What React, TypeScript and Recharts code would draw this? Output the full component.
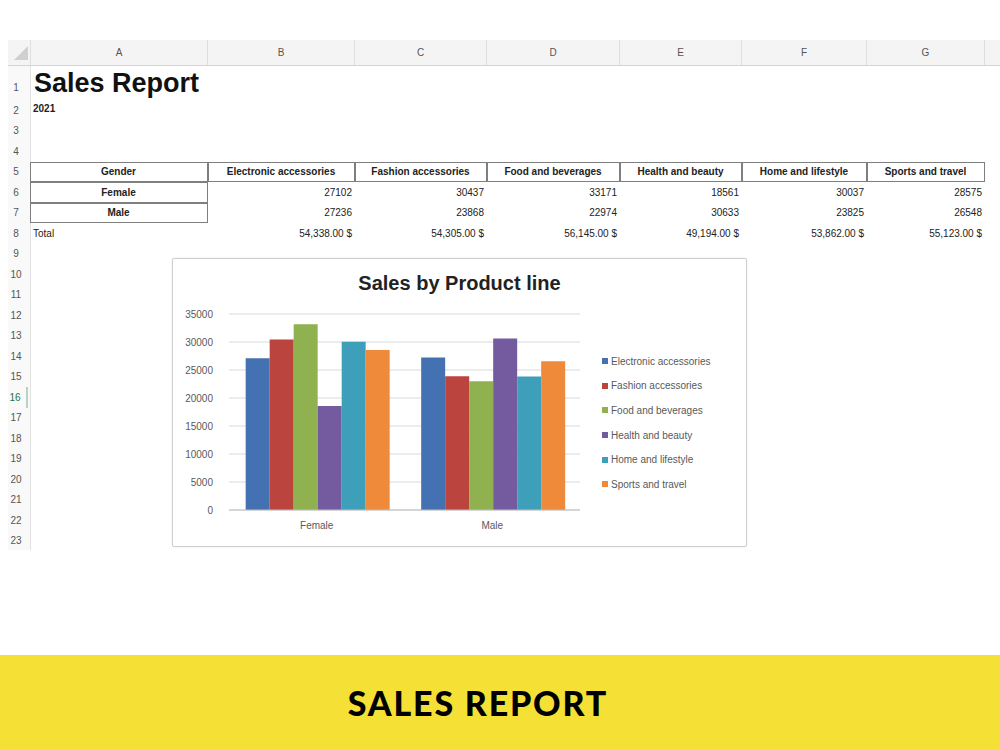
import { BarChart, Bar, XAxis, YAxis, CartesianGrid, Legend } from 'recharts';

const products = [
  'Electronic accessories',
  'Fashion accessories',
  'Food and beverages',
  'Health and beauty',
  'Home and lifestyle',
  'Sports and travel',
];
const genders = ['Female', 'Male'];
const femaleSales = [27102, 30437, 33171, 18561, 30037, 28575];
const maleSales = [27236, 23868, 22974, 30633, 23825, 26548];
const yTicks = [0, 5000, 10000, 15000, 20000, 25000, 30000, 35000];
const columnLetters = ['A', 'B', 'C', 'D', 'E', 'F', 'G'];

const colors = ['#4471b1', '#bb443f', '#8fb150', '#745a9f', '#3e9fbb', '#ef8a3a'];

// sheet geometry
const colEdges = [30, 208, 355, 487, 620, 742, 867, 985];
const rowTop = (n: number) => (n === 1 ? 66 : 100 + (n - 2) * 20.5);
const rowH = (n: number) => (n === 1 ? 34 : 20.5);

const chartData = genders.map((g, gi) => {
  const row: Record<string, string | number> = { gender: g };
  products.forEach((_, i) => {
    row['s' + i] = gi === 0 ? femaleSales[i] : maleSales[i];
  });
  return row;
});

const fmtTotal = (v: number) =>
  v.toLocaleString('en-US', { minimumFractionDigits: 2, maximumFractionDigits: 2 }) + ' $';

const cellFont = '"Liberation Sans", Arial, sans-serif';

const Cell = ({
  col,
  row,
  text,
  align = 'right',
  bold = false,
  border = false,
}: {
  col: number;
  row: number;
  text: string;
  align?: 'left' | 'right' | 'center';
  bold?: boolean;
  border?: boolean;
}) => (
  <div
    style={{
      position: 'absolute',
      left: colEdges[col],
      top: rowTop(row),
      width: colEdges[col + 1] - colEdges[col],
      height: rowH(row),
      boxSizing: 'border-box',
      border: border ? '1px solid #7f7f7f' : 'none',
      marginLeft: border ? -0.5 : 0,
      display: 'flex',
      alignItems: 'center',
      justifyContent: align === 'left' ? 'flex-start' : align === 'center' ? 'center' : 'flex-end',
      padding: '0 3px',
      fontSize: 10,
      fontWeight: bold ? 700 : 400,
      fontFamily: cellFont,
      color: '#222',
      whiteSpace: 'nowrap',
      overflow: 'hidden',
    }}
  >
    {text}
  </div>
);

const renderLegend = () => (
  <div>
    {products.map((p, i) => (
      <div key={p} style={{ display: 'flex', alignItems: 'center', height: 24.6 }}>
        <span style={{ width: 6, height: 6, background: colors[i], marginRight: 3 }} />
        <span style={{ fontSize: 10, color: '#595959', fontFamily: cellFont }}>{p}</span>
      </div>
    ))}
  </div>
);

export default function App() {
  const rows = Array.from({ length: 23 }, (_, i) => i + 1);
  return (
    <div
      style={{
        position: 'absolute',
        left: 0,
        top: 0,
        width: 1000,
        height: 750,
        background: '#fff',
        overflow: 'hidden',
        fontFamily: cellFont,
      }}
    >
      {/* column header strip */}
      <div
        style={{
          position: 'absolute',
          left: 8,
          top: 40,
          width: 992,
          height: 25,
          background: '#f4f4f4',
          borderBottom: '1px solid #d4d4d4',
        }}
      />
      <div
        style={{
          position: 'absolute',
          left: 14,
          top: 46,
          width: 0,
          height: 0,
          borderLeft: '14px solid transparent',
          borderBottom: '14px solid #d0d0d0',
        }}
      />
      {columnLetters.map((c, i) => (
        <div
          key={c}
          style={{
            position: 'absolute',
            left: colEdges[i],
            top: 40,
            width: colEdges[i + 1] - colEdges[i],
            height: 25,
            borderRight: '1px solid #dedede',
            borderLeft: i === 0 ? '1px solid #dedede' : 'none',
            boxSizing: 'border-box',
            display: 'flex',
            alignItems: 'center',
            justifyContent: 'center',
            fontSize: 10,
            color: '#555',
          }}
        >
          {c}
        </div>
      ))}

      {/* row numbers */}
      <div
        style={{
          position: 'absolute',
          left: 8,
          top: 66,
          width: 22,
          height: 484,
          background: '#f9f9f9',
          borderRight: '1px solid #e2e2e2',
        }}
      />
      {rows.map((r) => (
        <div
          key={r}
          style={{
            position: 'absolute',
            left: 4,
            top: rowTop(r) + (r === 1 ? 8 : 0),
            width: 24,
            height: r === 1 ? 26 : rowH(r),
            display: 'flex',
            alignItems: 'center',
            justifyContent: 'center',
            fontSize: 10,
            color: r === 16 ? '#217346' : '#555',
            borderRight: r === 16 ? '2px solid #b7d4c0' : 'none',
            boxSizing: 'border-box',
          }}
        >
          {r}
        </div>
      ))}

      {/* title */}
      <div
        style={{
          position: 'absolute',
          left: 34,
          top: 67,
          fontSize: 27,
          fontWeight: 700,
          color: '#111',
          lineHeight: '32px',
        }}
      >
        Sales Report
      </div>
      <div
        style={{
          position: 'absolute',
          left: 33,
          top: 103,
          fontSize: 10,
          fontWeight: 700,
          color: '#222',
        }}
      >
        2021
      </div>

      {/* data table */}
      <Cell col={0} row={5} text="Gender" align="center" bold border />
      <Cell col={0} row={6} text="Female" align="center" bold border />
      <Cell col={0} row={7} text="Male" align="center" bold border />
      {products.map((p, i) => (
        <Cell key={p} col={i + 1} row={5} text={p} align="center" bold border />
      ))}
      {femaleSales.map((v, i) => (
        <Cell key={'f' + i} col={i + 1} row={6} text={String(v)} />
      ))}
      {maleSales.map((v, i) => (
        <Cell key={'m' + i} col={i + 1} row={7} text={String(v)} />
      ))}
      <Cell col={0} row={8} text="Total" align="left" />
      {femaleSales.map((v, i) => (
        <Cell key={'t' + i} col={i + 1} row={8} text={fmtTotal(v + maleSales[i])} />
      ))}

      {/* chart object */}
      <div
        style={{
          position: 'absolute',
          left: 172,
          top: 258,
          width: 575,
          height: 289,
          boxSizing: 'border-box',
          border: '1px solid #cfcfcf',
          borderRadius: 2,
          background: '#fff',
          boxShadow: '0 0 2px rgba(0,0,0,0.12)',
        }}
      >
        <div
          style={{
            position: 'absolute',
            left: 0,
            top: 13,
            width: '100%',
            textAlign: 'center',
            fontSize: 20,
            fontWeight: 700,
            color: '#222',
          }}
        >
          Sales by Product line
        </div>
        <BarChart
          width={573}
          height={287}
          data={chartData}
          margin={{ top: 55, right: 26, left: 0, bottom: 11 }}
          barCategoryGap="9.5%"
          barGap={0}
        >
          <CartesianGrid vertical={false} stroke="#d9d9d9" />
          <XAxis
            dataKey="gender"
            height={25}
            tickLine={false}
            axisLine={{ stroke: '#bfbfbf' }}
            tickMargin={6}
            tick={{ fill: '#595959', fontSize: 10 }}
          />
          <YAxis
            width={56}
            domain={[0, 35000]}
            ticks={yTicks}
            tickLine={false}
            axisLine={false}
            tickMargin={10}
            tick={{ fill: '#595959', fontSize: 10 }}
          />
          <Legend
            layout="horizontal"
            verticalAlign="middle"
            align="right"
            content={renderLegend}
            wrapperStyle={{ left: 429, top: 90, width: 140, right: 'auto', bottom: 'auto' }}
          />
          {products.map((p, i) => (
            <Bar key={p} dataKey={'s' + i} name={p} fill={colors[i]} isAnimationActive={false} />
          ))}
        </BarChart>
      </div>

      {/* banner */}
      <div
        style={{
          position: 'absolute',
          left: 0,
          top: 655,
          width: 1000,
          height: 95,
          boxSizing: 'border-box',
          paddingRight: 44,
          background: '#f5e036',
          display: 'flex',
          alignItems: 'center',
          justifyContent: 'center',
          fontFamily: 'Lato, sans-serif',
          fontWeight: 900,
          fontSize: 34,
          color: '#000',
          letterSpacing: 1.8,
        }}
      >
        SALES REPORT
      </div>
    </div>
  );
}
